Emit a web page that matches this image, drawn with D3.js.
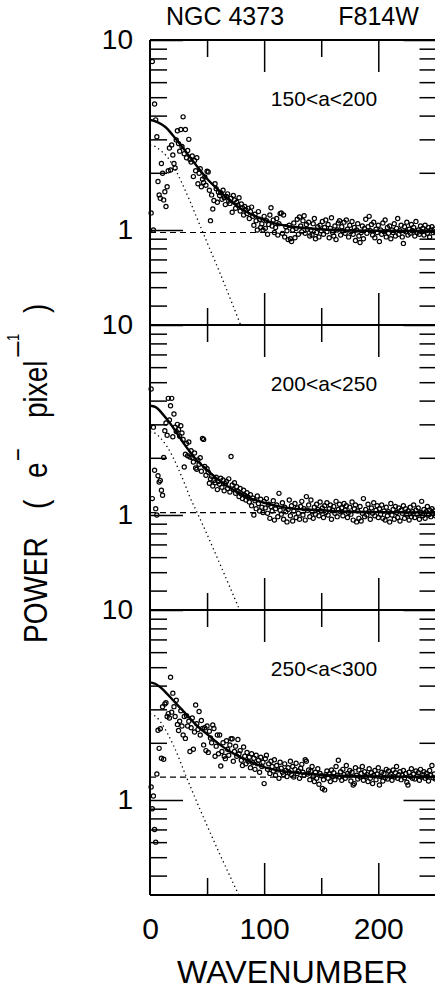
<!DOCTYPE html>
<html>
<head>
<meta charset="utf-8">
<script src="https://cdn.jsdelivr.net/npm/d3@7"></script>
<style>
  html, body { margin: 0; padding: 0; background: #fff; }
  svg { display: block; font-family: "Liberation Sans", Arial, Helvetica, sans-serif; }
</style>
</head>
<body>
<svg id="chart" width="435" height="992"></svg>
<script>
// ---------------- DATA ----------------
const title = "NGC 4373";
const filterName = "F814W";
const panelLabels = ["150<a<200", "200<a<250", "250<a<300"];
const xLabel = "WAVENUMBER";
const xTickLabels = [0, 100, 200];
const yTickLabels = [1, 10];

// wavenumbers of the measured points
const wavenumbers = d3.range(1, 251);

// measured power, panel 1 (150<a<200)
const power1 = [
  1.23, 7.7, 1.0, 4.6, 3.8, 3.1, 1.8, 1.53, 1.47, 2.24,
  1.99, 1.44, 1.59, 1.33, 1.69, 2.05, 2.7, 2.07, 2.8, 2.48,
  2.24, 2.12, 2.98, 3.33, 2.85, 2.6, 3.38, 2.75, 3.94, 2.52,
  3.38, 2.4, 2.62, 3.0, 2.35, 2.28, 2.45, 1.91, 2.32, 2.05,
  2.4, 1.75, 1.99, 2.1, 1.69, 1.85, 1.78, 1.9, 1.72, 2.04,
  2.02, 1.62, 1.12, 1.53, 1.29, 1.43, 1.75, 1.65, 1.4, 1.58,
  1.52, 1.57, 1.45, 1.62, 1.48, 1.36, 1.5, 1.55, 1.42, 1.38,
  1.47, 1.24, 1.52, 1.44, 1.3, 1.4, 1.35, 1.48, 1.26, 1.37,
  1.31, 1.2, 1.33, 1.28, 1.22, 1.3, 1.15, 1.25, 1.32, 1.18,
  1.06, 1.21, 1.12, 1.0, 1.25, 1.14, 1.03, 1.08, 1.0, 1.18,
  1.02, 1.12, 0.95, 1.07, 1.2, 1.31, 1.05, 1.13, 0.97, 1.03,
  1.15, 0.94, 1.08, 1.22, 1.23, 0.96, 1.2, 0.92, 1.04, 0.99,
  0.89, 1.06, 0.9, 0.87, 1.0, 1.09, 0.91, 1.02, 1.14, 0.95,
  1.17, 1.05, 0.98, 1.12, 1.19, 0.96, 1.07, 1.01, 1.1, 0.93,
  1.0, 0.94, 1.08, 1.15, 0.9, 0.97, 1.04, 0.92, 1.06, 0.99,
  1.11, 0.95, 1.03, 1.13, 0.98, 1.07, 0.91, 1.02, 1.16, 0.97,
  0.93, 1.05, 0.89, 1.0, 1.09, 1.12, 0.94, 1.04, 0.99, 1.1,
  0.96, 1.13, 1.01, 0.92, 1.06, 0.98, 1.11, 0.95, 1.03, 0.88,
  1.0, 1.08, 0.93, 0.86, 0.97, 1.05, 0.9, 1.02, 1.14, 0.96,
  1.04, 1.18, 0.99, 1.07, 0.94, 1.1, 0.91, 1.01, 0.97, 1.06,
  0.87, 1.0, 0.95, 1.09, 0.98, 1.13, 0.92, 1.03, 0.96, 1.05,
  0.9, 1.0, 0.97, 1.08, 0.93, 1.02, 1.15, 0.95, 0.99, 1.06,
  0.92, 0.85, 1.04, 0.98, 1.1, 0.94, 1.01, 0.96, 1.07, 0.99,
  1.03, 0.93, 1.11, 0.97, 1.0, 0.95, 1.05, 0.98, 1.02, 0.94,
  1.06, 0.99, 0.96, 1.03, 0.92, 1.0, 1.04, 0.97, 1.01, 0.98
];

// measured power, panel 2 (200<a<250)
const power2 = [
  4.6, 1.22, 2.9, 1.72, 1.08, 1.0, 1.61, 1.49, 1.52, 1.35,
  1.27, 2.01, 2.78, 3.05, 2.63, 4.11, 3.16, 3.76, 4.11, 2.58,
  3.4, 2.9, 2.75, 3.0, 2.82, 2.6, 2.95, 2.7, 2.5, 1.79,
  2.09, 2.38, 2.05, 2.42, 2.02, 2.18, 2.0, 1.9, 2.12, 1.77,
  1.74, 1.95, 1.85, 2.0, 1.7, 2.53, 2.5, 1.8, 1.62, 1.75,
  1.68, 1.47, 1.55, 1.6, 1.42, 1.52, 1.48, 1.58, 1.36, 1.5,
  1.45, 1.56, 1.4, 1.53, 1.34, 1.46, 1.5, 1.38, 1.55, 1.32,
  2.03, 1.44, 1.36, 1.48, 1.3, 1.41, 1.33, 1.25, 1.38, 1.29,
  1.22, 1.35, 1.27, 1.2, 1.31, 1.24, 1.17, 1.28, 1.12, 1.23,
  1.0, 1.19, 1.08, 1.26, 1.15, 1.05, 1.21, 1.1, 1.03, 1.18,
  1.09, 1.22, 1.02, 1.14, 0.96, 1.11, 1.05, 1.19, 0.94, 1.08,
  1.13, 0.98, 1.3, 1.06, 1.01, 1.16, 0.95, 1.1, 1.04, 0.92,
  1.07, 1.2, 0.99, 1.12, 0.93, 1.05, 1.15, 0.97, 1.09, 1.02,
  0.95, 1.11, 1.18, 1.0, 1.08, 0.94, 1.25, 1.06, 1.13, 0.98,
  1.2, 1.04, 0.96, 1.1, 1.01, 1.14, 1.07, 0.99, 1.17, 1.05,
  1.09, 0.97, 1.12, 1.03, 1.16, 1.0, 1.08, 1.13, 0.95, 1.06,
  1.11, 1.02, 1.18, 0.98, 1.07, 1.14, 1.04, 1.09, 0.99, 1.15,
  1.06, 1.12, 0.97, 1.03, 1.1, 1.01, 1.17, 0.94, 1.08, 1.13,
  0.92, 1.05, 0.96, 1.11, 0.93, 1.02, 1.22, 0.98, 1.07, 1.0,
  1.14, 1.04, 0.95, 1.09, 1.02, 1.16, 0.99, 1.06, 1.12, 0.97,
  1.08, 1.01, 1.13, 0.96, 1.05, 0.94, 1.1, 0.99, 1.04, 0.92,
  1.15, 1.0, 1.07, 0.95, 1.11, 1.03, 0.97, 1.09, 0.93, 1.06,
  1.02, 1.12, 0.96, 1.08, 1.0, 1.05, 0.94, 1.1, 0.98, 1.04,
  1.13, 0.97, 1.06, 1.01, 1.09, 0.95, 1.03, 1.18, 0.99, 1.07,
  0.96, 1.04, 1.11, 1.0, 1.06, 0.98, 1.08, 1.02, 1.05, 0.99
];

// measured power, panel 3 (250<a<300)
const power3 = [
  1.17, 0.9, 1.05, 0.7, 0.6, 1.37, 2.33, 1.87, 2.37, 1.66,
  3.1, 1.64, 3.2, 3.25, 2.75, 2.85, 2.7, 4.43, 2.9, 3.65,
  3.1, 2.75, 3.35, 2.5, 2.32, 2.6, 2.95, 2.45, 2.2, 2.75,
  2.11, 2.78, 2.45, 2.6, 1.8, 2.4, 2.7, 1.85, 2.28, 3.16,
  2.52, 2.35, 2.92, 2.2, 2.62, 2.38, 1.95, 2.4, 1.82, 2.45,
  1.78, 2.3, 2.12, 2.0, 2.48, 2.38, 1.7, 1.92, 2.2, 1.75,
  2.2, 1.51, 1.8, 2.0, 1.7, 1.65, 2.05, 1.85, 1.72, 1.95,
  2.1, 2.1, 1.6, 1.8, 1.92, 1.7, 2.08, 1.75, 1.82, 1.62,
  1.52, 1.9, 1.7, 1.55, 1.78, 1.6, 1.68, 1.48, 1.75, 1.57,
  1.66, 1.45, 1.72, 1.55, 1.62, 1.4, 1.68, 1.5, 1.58, 1.22,
  1.65, 1.72, 1.45, 1.55, 1.38, 1.6, 1.5, 1.42, 1.63, 1.35,
  1.52, 1.44, 1.3, 1.58, 1.47, 1.4, 1.36, 1.55, 1.43, 1.33,
  1.48, 1.4, 1.6, 1.36, 1.5, 1.32, 1.45, 1.56, 1.38, 1.42,
  1.3, 1.47, 1.54, 1.4, 1.35, 1.63, 1.6, 1.37, 1.44, 1.28,
  1.42, 1.5, 1.33, 1.25, 1.4, 1.3, 1.46, 1.21, 1.38, 1.34,
  1.15, 1.28, 1.13, 1.36, 1.42, 1.3, 1.37, 1.25, 1.44, 1.33,
  1.39, 1.28, 1.5, 1.35, 1.62, 1.32, 1.41, 1.27, 1.45, 1.36,
  1.3, 1.52, 1.38, 1.34, 1.43, 1.26, 1.4, 1.2, 1.22, 1.48,
  1.35, 1.29, 1.44, 1.32, 1.38, 1.5, 1.27, 1.41, 1.33, 1.36,
  1.25, 1.46, 1.3, 1.39, 1.22, 1.35, 1.43, 1.28, 1.37, 1.48,
  1.2, 1.33, 1.4, 1.26, 1.38, 1.31, 1.45, 1.29, 1.42, 1.34,
  1.37, 1.27, 1.44, 1.32, 1.39, 1.5, 1.3, 1.36, 1.41, 1.28,
  1.35, 1.43, 1.31, 1.38, 1.24, 1.2, 1.4, 1.33, 1.46, 1.3,
  1.37, 1.29, 1.42, 1.34, 1.39, 1.27, 1.45, 1.32, 1.36, 1.41,
  1.3, 1.38, 1.33, 1.26, 1.43, 1.35, 1.52, 1.31, 1.37, 1.29
];

// fitted model (solid), sampled at fitK
const fitK = [0, 5, 10, 15, 20, 25, 30, 35, 40, 50, 60, 70, 80, 90, 100, 110, 120, 140, 160, 200, 251];
const fit1 = [3.79, 3.73, 3.6, 3.42, 3.15, 2.9, 2.65, 2.42, 2.21, 1.86, 1.62, 1.43, 1.29, 1.2, 1.13, 1.08, 1.05, 1.02, 1.0, 0.99, 0.985];
const fit2 = [3.76, 3.7, 3.46, 3.18, 2.9, 2.62, 2.36, 2.15, 1.97, 1.73, 1.53, 1.39, 1.29, 1.21, 1.16, 1.12, 1.09, 1.065, 1.05, 1.035, 1.03];
const fit3 = [4.16, 4.08, 3.88, 3.62, 3.36, 3.12, 2.9, 2.69, 2.5, 2.22, 1.98, 1.8, 1.67, 1.57, 1.49, 1.44, 1.41, 1.37, 1.345, 1.33, 1.32];

// PSF component (dotted), sampled at psfK
const psfK = [0, 5, 10, 15, 20, 25, 30, 35, 40, 50, 60, 70, 80, 90];
const psf1 = [2.8, 2.74, 2.6, 2.43, 2.19, 1.93, 1.66, 1.42, 1.2, 0.86, 0.62, 0.44, 0.31, 0.22];
const psf2 = [2.74, 2.68, 2.51, 2.29, 2.02, 1.74, 1.48, 1.24, 1.07, 0.79, 0.575, 0.417, 0.302, 0.22];
const psf3 = [2.84, 2.75, 2.54, 2.26, 1.97, 1.68, 1.41, 1.19, 1.01, 0.733, 0.537, 0.398, 0.295, 0.215];

// white-noise level (dashed)
const noiseLevels = [0.97, 1.03, 1.32];

// axis extents
const xDomain = [0, 251];
const yDomain = [0.3162, 10];
const yMinorTicks = [0.4, 0.5, 0.6, 0.7, 0.8, 0.9, 2, 3, 4, 5, 6, 7, 8, 9];
const xMajorTicks = [100, 200];
const xMinorTicks = [50, 150];

// ---------------- DRAWING ----------------
const powers = [power1, power2, power3];
const fits = [fit1, fit2, fit3];
const psfs = [psf1, psf2, psf3];

const svg = d3.select("#chart");
const left = 150, right = 436.5, top0 = 40, panelH = 285;
const x = d3.scaleLinear().domain(xDomain).range([left, right]);

svg.append("text").attr("x", 225).attr("y", 25).attr("text-anchor", "middle")
  .attr("font-size", 25).text(title);
svg.append("text").attr("x", 378.5).attr("y", 25).attr("text-anchor", "middle")
  .attr("font-size", 25).text(filterName);

const lineGen = (y) => d3.line().x(d => x(d[0])).y(d => y(d[1])).curve(d3.curveMonotoneX);

powers.forEach((pw, i) => {
  const top = top0 + i * panelH, bottom = top + panelH;
  const y = d3.scaleLog().domain(yDomain).range([bottom, top]);
  const g = svg.append("g");

  const clipId = "clip" + i;
  svg.append("clipPath").attr("id", clipId).append("rect")
    .attr("x", left - 5).attr("y", top).attr("width", right - left + 5).attr("height", panelH);

  const plot = g.append("g").attr("clip-path", `url(#${clipId})`);

  // data points
  plot.selectAll("circle").data(pw.map((v, j) => [wavenumbers[j], v])).join("circle")
    .attr("cx", d => x(d[0])).attr("cy", d => y(d[1])).attr("r", 2.1)
    .attr("fill", "none").attr("stroke", "#000").attr("stroke-width", 1.2);

  // noise level (dashed)
  plot.append("path")
    .attr("d", d3.line().x(d => x(d[0])).y(d => y(d[1]))([[xDomain[0], noiseLevels[i]], [xDomain[1], noiseLevels[i]]]))
    .attr("fill", "none").attr("stroke", "#000").attr("stroke-width", 1.2)
    .attr("stroke-dasharray", "6,4");

  // PSF (dotted)
  plot.append("path")
    .attr("d", lineGen(y)(psfK.map((k, j) => [k, psfs[i][j]])))
    .attr("fill", "none").attr("stroke", "#000").attr("stroke-width", 1.3)
    .attr("stroke-dasharray", "1.3,3.2");

  // fit (solid)
  plot.append("path")
    .attr("d", lineGen(y)(fitK.map((k, j) => [k, fits[i][j]])))
    .attr("fill", "none").attr("stroke", "#000").attr("stroke-width", 2.4);

  // y axes - left
  const yl = g.append("g").attr("transform", `translate(${left},0)`)
    .call(d3.axisLeft(y).tickValues(yTickLabels).tickSizeInner(-33).tickSizeOuter(0)
      .tickPadding(17).tickFormat(d3.format("d")));
  yl.selectAll("text").attr("font-size", 28).attr("font-family", null).attr("fill", "#000");
  const ylm = g.append("g").attr("transform", `translate(${left},0)`)
    .call(d3.axisLeft(y).tickValues(yMinorTicks).tickSizeInner(-17).tickSizeOuter(0).tickFormat(""));
  // y axes - right
  const yr = g.append("g").attr("transform", `translate(${right},0)`)
    .call(d3.axisRight(y).tickValues(yTickLabels).tickSizeInner(-33).tickSizeOuter(0).tickFormat(""));
  const yrm = g.append("g").attr("transform", `translate(${right},0)`)
    .call(d3.axisRight(y).tickValues(yMinorTicks).tickSizeInner(-17).tickSizeOuter(0).tickFormat(""));

  // x axes - top and bottom of panel
  const xt = g.append("g").attr("transform", `translate(0,${top})`)
    .call(d3.axisTop(x).tickValues(xMajorTicks).tickSizeInner(-32).tickSizeOuter(0).tickFormat(""));
  const xtm = g.append("g").attr("transform", `translate(0,${top})`)
    .call(d3.axisTop(x).tickValues(xMinorTicks).tickSizeInner(-17).tickSizeOuter(0).tickFormat(""));
  const xb = g.append("g").attr("transform", `translate(0,${bottom})`)
    .call(d3.axisBottom(x).tickValues(xMajorTicks).tickSizeInner(-32).tickSizeOuter(0).tickFormat(""));
  const xbm = g.append("g").attr("transform", `translate(0,${bottom})`)
    .call(d3.axisBottom(x).tickValues(xMinorTicks).tickSizeInner(-17).tickSizeOuter(0).tickFormat(""));

  [yl, ylm, yr, yrm, xt, xtm, xb, xbm].forEach(a => {
    a.select(".domain").remove();
    a.selectAll("line").attr("stroke", "#000").attr("stroke-width", 1.5);
  });

  // frame
  g.append("line").attr("x1", left).attr("x2", right).attr("y1", top).attr("y2", top)
    .attr("stroke", "#000").attr("stroke-width", 2);
  g.append("line").attr("x1", left).attr("x2", right).attr("y1", bottom).attr("y2", bottom)
    .attr("stroke", "#000").attr("stroke-width", 2);
  g.append("line").attr("x1", left).attr("x2", left).attr("y1", top).attr("y2", bottom)
    .attr("stroke", "#000").attr("stroke-width", 2);
  g.append("line").attr("x1", right).attr("x2", right).attr("y1", top).attr("y2", bottom)
    .attr("stroke", "#000").attr("stroke-width", 2);

  // panel label
  g.append("text").attr("x", 324).attr("y", top + 66).attr("text-anchor", "middle")
    .attr("font-size", 21).text(panelLabels[i]);

  // bottom tick labels on last panel
  if (i === powers.length - 1) {
    const xl = g.append("g").attr("transform", `translate(0,${bottom})`)
      .call(d3.axisBottom(x).tickValues(xTickLabels).tickSize(0).tickPadding(23).tickFormat(d3.format("d")));
    xl.select(".domain").remove();
    xl.selectAll("text").attr("font-size", 30).attr("font-family", null).attr("fill", "#000");
  }
});

// x-axis title
svg.append("text").attr("x", 292.5).attr("y", 983).attr("text-anchor", "middle")
  .attr("font-size", 31).attr("textLength", 231).attr("lengthAdjust", "spacingAndGlyphs").text(xLabel);

// y-axis title, rotated (glyphs slightly taller than wide, as in the reference)
const yt = svg.append("g").attr("transform", "translate(47,643) rotate(-90) scale(1,1.2)").attr("font-size", 28);
yt.append("text").attr("x", 0).text("POWER");
yt.append("text").attr("x", 134).text("(");
yt.append("text").attr("x", 165).text("e");
yt.append("text").attr("x", 182).attr("y", -16.3).attr("font-size", 22).text("\u2212");
yt.append("text").attr("x", 225).text("pixel");
yt.append("text").attr("x", 285).attr("y", -16.3).attr("font-size", 22)
  .attr("textLength", 18).attr("lengthAdjust", "spacingAndGlyphs").text("\u2212");
yt.append("text").attr("x", 302).attr("y", -23.3).attr("font-size", 13).text("1");
yt.append("text").attr("x", 330).text(")");
</script>
</body>
</html>
